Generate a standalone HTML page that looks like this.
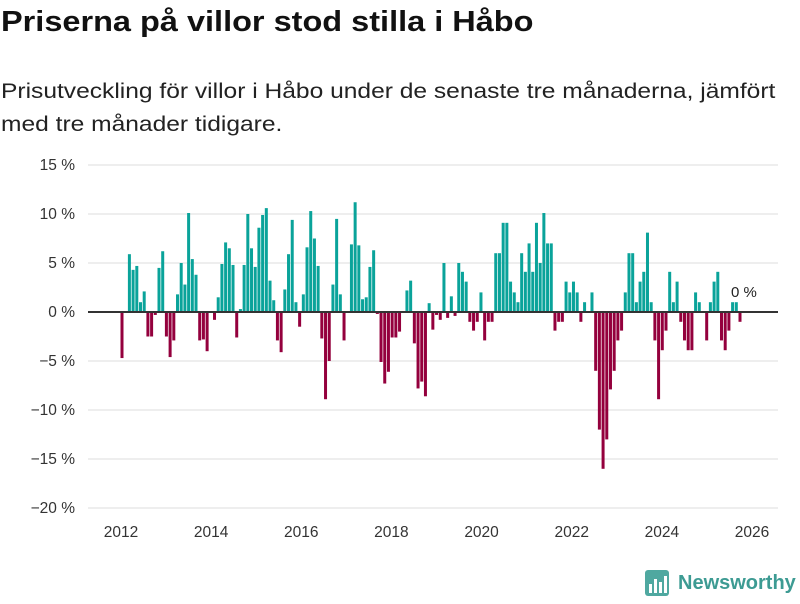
<!DOCTYPE html>
<html><head><meta charset="utf-8"><style>
body{margin:0;width:800px;height:600px;background:#fff;font-family:"Liberation Sans","DejaVu Sans",sans-serif;overflow:hidden;position:relative}
h1{position:absolute;left:1px;top:6px;margin:0;font-size:29px;font-weight:bold;color:#111;white-space:nowrap;transform:scaleX(1.12);transform-origin:left top}
p{position:absolute;left:1px;top:75px;margin:0;font-size:21px;line-height:33px;color:#222;white-space:nowrap;transform:scaleX(1.17);transform-origin:left top}
svg{position:absolute;left:0;top:0}
</style></head><body>
<h1>Priserna på villor stod stilla i Håbo</h1>
<p>Prisutveckling för villor i Håbo under de senaste tre månaderna, jämfört<br>med tre månader tidigare.</p>
<svg id="chart" width="800" height="600"></svg>
<script>
const yTicks=[15,10,5,0,-5,-10,-15,-20];
const yearTicks=[2012,2014,2016,2018,2020,2022,2024,2026];
const values=[-4.7,0,5.9,4.3,4.7,1.0,2.1,-2.5,-2.5,-0.3,4.5,6.2,-2.5,-4.6,-2.9,1.8,5.0,2.8,10.1,5.4,3.8,-2.9,-2.8,-4.0,0,-0.8,1.5,4.9,7.1,6.5,4.8,-2.6,0.3,4.8,10.0,6.5,4.6,8.6,9.9,10.6,3.2,1.2,-2.9,-4.1,2.3,5.9,9.4,1.0,-1.5,1.8,6.6,10.3,7.5,4.7,-2.7,-8.9,-5.0,2.8,9.5,1.8,-2.9,0,6.9,11.2,6.8,1.3,1.5,4.6,6.3,-0.2,-5.1,-7.3,-6.1,-2.6,-2.6,-2.0,0,2.2,3.2,-3.2,-7.8,-7.1,-8.6,0.9,-1.8,-0.3,-0.8,5.0,-0.6,1.6,-0.4,5.0,4.1,3.1,-1.0,-1.9,-1.0,2.0,-2.9,-1.0,-1.0,6.0,6.0,9.1,9.1,3.1,2.0,1.0,6.0,4.1,7.0,4.1,9.1,5.0,10.1,7.0,7.0,-1.9,-1.0,-1.0,3.1,2.0,3.1,2.0,-1.0,1.0,0,2.0,-6.0,-12.0,-16.0,-13.0,-7.9,-6.0,-2.9,-1.9,2.0,6.0,6.0,1.0,3.1,4.1,8.1,1.0,-2.9,-8.9,-3.9,-1.9,4.1,1.0,3.1,-1.0,-2.9,-3.9,-3.9,2.0,1.0,0,-2.9,1.0,3.1,4.1,-2.9,-3.9,-1.9,1.0,1.0,-1.0];
const lastLabel="0 %";
const NS="http://www.w3.org/2000/svg";
const svg=document.getElementById('chart');
const y=v=>312-v*9.8;
const xYear=t=>121+(t-2012)*45.07;
const x0=122,x1=740;
const xBar=i=>x0+i*(x1-x0)/(values.length-1);
function mk(tag,attrs){const e=document.createElementNS(NS,tag);for(const k in attrs)e.setAttribute(k,attrs[k]);svg.appendChild(e);return e;}
yTicks.forEach(v=>{
  const l=mk('line',{x1:88,x2:778,y1:y(v),y2:y(v),stroke:'#dddddd','stroke-width':1});
  
  
  const t=mk('text',{x:75,y:y(v)+5,'text-anchor':'end','font-size':15.5,fill:'#333'});
  t.textContent=(v<0?'\u2212'+(-v):v)+' %';
  
  
});
yearTicks.forEach(yr=>{
  const t=mk('text',{x:xYear(yr),y:537,'text-anchor':'middle','font-size':15.5,fill:'#333'});
  t.textContent=yr;
  
  
});
values.forEach((v,i)=>{
  if(v===0)return;
  const r=mk('rect',{x:xBar(i)-1.5,width:3,y:Math.min(y(v),y(0)),height:Math.abs(y(v)-y(0)),fill:v>0?'#0aa39a':'#94003d'});
  
  
});
const z=mk('line',{x1:88,x2:778,y1:y(0),y2:y(0),stroke:'#333','stroke-width':2});


const lt=mk('text',{x:xBar(values.length-1)-9,y:297,'font-size':15,fill:'#222'});
lt.textContent=lastLabel;


</script>
<svg width="160" height="40" style="left:640px;top:564px">
<rect x="5" y="6" width="24" height="26" rx="3" fill="#4fa8a0"/>
<rect x="9" y="20" width="3" height="9" fill="#fff"/><rect x="14" y="15" width="3" height="14" fill="#fff"/><rect x="19" y="18" width="3" height="11" fill="#fff"/><rect x="24" y="12" width="3" height="17" fill="#fff"/>
<text x="38" y="25" font-size="20" font-weight="bold" fill="#3d9b93">Newsworthy</text>
</svg>
</body></html>
